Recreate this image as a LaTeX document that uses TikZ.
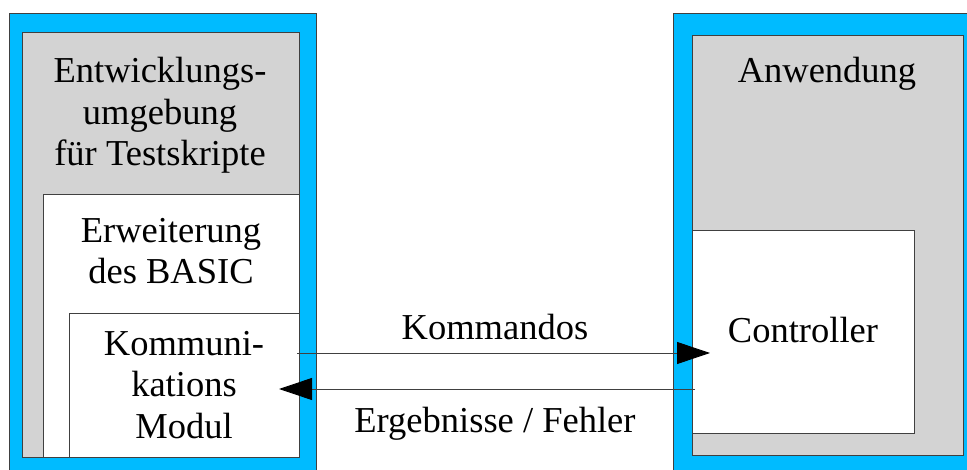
\documentclass[tikz,border=0pt]{standalone}
\usepackage{fontspec}
\setmainfont{Liberation Serif}
\newfontfamily\labelfont{Liberation Serif}
\usetikzlibrary{arrows.meta}
\definecolor{frameblue}{RGB}{0,187,255}
\definecolor{panelgray}{RGB}{211,211,211}
\tikzset{
  box/.style={draw=black!75, line width=0.9pt, inner sep=0pt, outer sep=0pt},
  label/.style={font=\labelfont\fontsize{36.5}{41.5}\selectfont, align=center, anchor=base, inner sep=0pt},
  arr/.style={draw=black!75, line width=0.9pt, -{Triangle[length=33pt,width=22pt,color=black]}}
}
\begin{document}
\begin{tikzpicture}[x=1pt,y=-1pt]
\useasboundingbox (0,0) rectangle (967,470);
\clip (0,0) rectangle (967,470);
\fill[white] (0,0) rectangle (967,470);

% left column: development environment
\draw[box, fill=frameblue] (9,13) rectangle (316,480);
\draw[box, fill=panelgray] (22,32) rectangle (299,457);
\draw[box, fill=white] (43,194) rectangle (299,457);
\node[box, fill=white, anchor=north west, minimum width=230pt, minimum height=144pt] (kom) at (69,313) {};

% right column: application
\draw[box, fill=frameblue] (673,13) rectangle (990,480);
\draw[box, fill=panelgray] (692,35) rectangle (963,455);
\node[box, fill=white, anchor=north west, minimum width=222pt, minimum height=203pt] (ctrl) at (692,230) {};

% texts (base anchor sits on the last line)
\node[label] (env) at (160,166) {Entwicklungs-\\umgebung\\für Testskripte};
\node[label] (ext) at (171,284) {Erweiterung\\des BASIC};
\node[label] (komtxt) at (184,438) {Kommuni-\\kations\\Modul};
\node[label] (app) at (827,83) {Anwendung};
\node[label] (ctrltxt) at (803,343) {Controller};

% connectors
\coordinate (cmdy) at (0,353);
\coordinate (resy) at (0,389);
\draw[arr] ([xshift=-2pt]kom.east |- cmdy) -- ([xshift=18pt]ctrl.west |- cmdy);
\draw[arr] ([xshift=3pt]ctrl.west |- resy) -- ([xshift=-20pt]kom.east |- resy);
\node[label] (cmdlbl) at (495,340) {Kommandos};
\node[label] (reslbl) at (495,432) {Ergebnisse / Fehler};
\end{tikzpicture}
\end{document}
